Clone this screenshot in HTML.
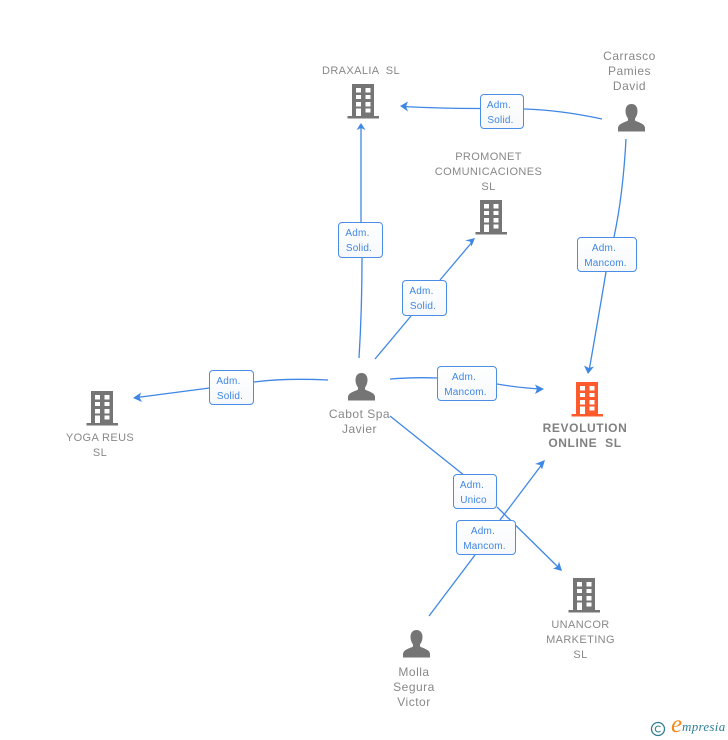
<!DOCTYPE html>
<html>
<head>
<meta charset="utf-8">
<style>
html,body{margin:0;padding:0;background:#fff}
#c{position:relative;width:728px;height:740px;overflow:hidden;background:#fff;font-family:"Liberation Sans",sans-serif}
svg{position:absolute;left:0;top:0}
.l{position:absolute;text-align:center;color:#888;font-size:11px;line-height:15px;white-space:pre;transform:translateX(-50%);letter-spacing:.38px}
.p{font-size:12px;letter-spacing:.5px}
.r{font-weight:bold;font-size:12px;letter-spacing:.6px;color:#808080}
.b{position:absolute;box-sizing:border-box;border:1.3px solid #4a8ee8;border-radius:4px;background:linear-gradient(#fff,#f6f8fb);color:#3f87e5;font-size:10px;line-height:15px;text-align:center;padding:3px 3px 0 0;letter-spacing:.2px}
.b i{font-style:normal;position:relative;left:-1.5px}
.e{position:absolute;left:671px;top:719px;font-family:"Liberation Serif",serif;font-style:italic;font-size:13px;color:#2f7f96;letter-spacing:.3px}
.e b{position:absolute;left:0;top:-8px;font-size:25px;font-weight:normal;color:#f08a1d}
.e span{margin-left:11px}
</style>
</head>
<body>
<div id="c">
<svg width="728" height="740" viewBox="0 0 728 740">
<defs>
<g id="bd">
<path fill-rule="evenodd" d="M0 0H22V32H0ZM4 4V8.5H9V4ZM13.5 4V8.5H18.5V4ZM4 11V15H9V11ZM13.5 11V15H18.5V11ZM4 18V22.5H9V18ZM13.5 18V22.5H18.5V18ZM4 24.5V32H9V24.5ZM13.5 24.5V28.5H18.5V24.5Z"/>
<rect x="-4.5" y="32" width="31.5" height="2.5"/>
</g>
<g id="pe">
<path d="M13.5 0C9.5 0 7.5 3 7.5 7C7.5 10 8.5 12.500 10 14.500V16.500C7 18.500 1 19 0 23.500V27.500H27V23.500C26 19 20 18.500 17 16.500V14.500C18.500 12.500 19.500 10 19.500 7C19.500 3 17.500 0 13.500 0Z"/>
</g>
</defs>
<g fill="none" stroke="#3f87e5" stroke-width="1.3">
<path d="M602 119Q560 110 524 109"/>
<path d="M480 108.500Q440 108.500 403 106.500"/>
<path d="M359 358Q362 310 362 258"/>
<path d="M361 222Q361 170 361 127"/>
<path d="M375 359L411 316"/>
<path d="M440 280L473 241"/>
<path d="M626 139Q623 195 614 237"/>
<path d="M606 272Q598 320 589 371"/>
<path d="M390 379Q415 377 437 378"/>
<path d="M497 384Q520 388 541 389"/>
<path d="M328 380Q285 378 254 382"/>
<path d="M209.500 388L137 397.500"/>
<path d="M390 416L465 476"/>
<path d="M497 507L559 568"/>
<path d="M429 616L475 555"/>
<path d="M500 520L543 463"/>
</g>
<g fill="#3f87e5">
<path d="M400 106L408 101.500L406 106.500L408 111.500Z"/>
<path d="M361 123L365.500 130L361 128L356.500 130Z"/>
<path d="M475 238L471.500 246.500L470 241.500L465 240.500Z"/>
<path d="M588 374L584 365.500L589 368L594 366.500Z"/>
<path d="M544 389L535 384.500L537 389L535 394Z"/>
<path d="M133 398L141 392.500L139.500 397.500L142 402Z"/>
<path d="M562 571L553 568.500L557.500 566.500L559 561.500Z"/>
<path d="M545 460L542 469.500L540 465L535 464Z"/>
</g>
<g fill="#757575">
<use href="#bd" x="352" y="84"/>
<use href="#bd" x="480" y="200"/>
<use href="#bd" x="91" y="391"/>
<use href="#bd" x="573" y="578"/>
<use href="#pe" x="348" y="373"/>
<use href="#pe" x="618" y="104"/>
<use href="#pe" x="403" y="630"/>
</g>
<use href="#bd" x="576" y="382" fill="#ff5a2c"/>
<circle cx="658" cy="729" r="6.500" fill="none" stroke="#2f7f96" stroke-width="1.300"/>
<path d="M660.500 727A3 3 0 1 0 660.500 731" fill="none" stroke="#2f7f96" stroke-width="1.100"/>
</svg>

<div class="l" style="left:361px;top:64px">DRAXALIA  SL</div>
<div class="l p" style="left:629.500px;top:49px">Carrasco
Pamies
David</div>
<div class="l" style="left:488.500px;top:150px">PROMONET
COMUNICACIONES
SL</div>
<div class="l r" style="left:585px;top:421px">REVOLUTION
ONLINE  SL</div>
<div class="l p" style="left:359.500px;top:407px">Cabot Spa
Javier</div>
<div class="l" style="left:100px;top:431px">YOGA REUS
SL</div>
<div class="l" style="left:580.500px;top:618px">UNANCOR
MARKETING
SL</div>
<div class="l p" style="left:414px;top:665px">Molla
Segura
Victor</div>

<div class="b" style="left:480px;top:94px;width:44px;height:35px"><i>Adm.</i><br>Solid.</div>
<div class="b" style="left:338px;top:222px;width:45px;height:36px"><i>Adm.</i><br>Solid.</div>
<div class="b" style="left:402px;top:280px;width:45px;height:36px"><i>Adm.</i><br>Solid.</div>
<div class="b" style="left:577px;top:237px;width:60px;height:35px"><i>Adm.</i><br>Mancom.</div>
<div class="b" style="left:437px;top:366px;width:60px;height:35px"><i>Adm.</i><br>Mancom.</div>
<div class="b" style="left:209px;top:370px;width:45px;height:35px"><i>Adm.</i><br>Solid.</div>
<div class="b" style="left:453px;top:474px;width:44px;height:35px"><i>Adm.</i><br>Unico</div>
<div class="b" style="left:456px;top:520px;width:60px;height:35px"><i>Adm.</i><br>Mancom.</div>

<div class="e"><b>e</b><span>mpresia</span></div>
</div>
</body>
</html>
